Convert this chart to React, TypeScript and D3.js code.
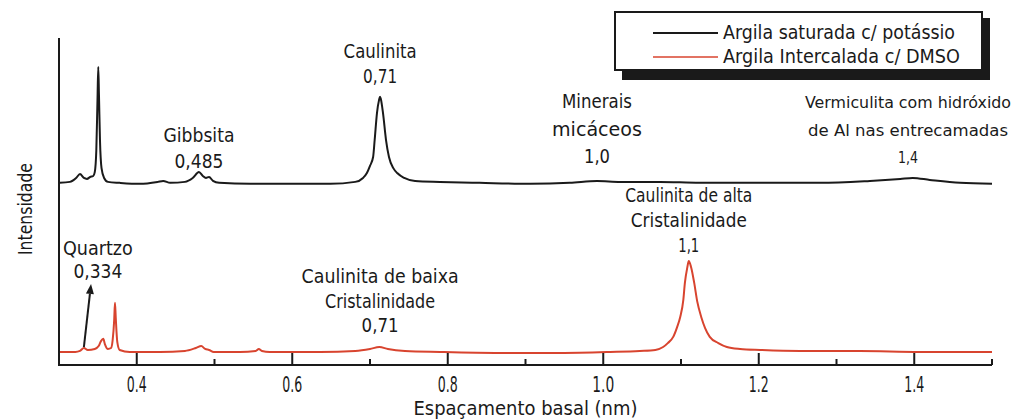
import React from "react";
import * as d3 from "d3";

// Basal spacing (nm) and relative intensity of each diffractogram
const potassioD = [
  0.301, 0.314, 0.322, 0.327, 0.332, 0.336, 0.34, 0.344, 0.346, 0.348, 0.3495, 0.3505, 0.3514, 0.3527,
  0.3547, 0.358, 0.363, 0.378, 0.404, 0.427, 0.434, 0.443, 0.462, 0.472, 0.48, 0.485, 0.489, 0.493,
  0.498, 0.506, 0.546, 0.597, 0.649, 0.681, 0.691, 0.696, 0.7, 0.704, 0.706, 0.709, 0.7116, 0.7129,
  0.714, 0.7167, 0.7206, 0.7244, 0.73, 0.735, 0.744, 0.758, 0.79, 0.841, 0.906, 0.957, 0.992, 1.022,
  1.073, 1.124, 1.202, 1.279, 1.343, 1.382, 1.398, 1.42, 1.459, 1.5,
];
const potassioI = [
  55.7, 56.0, 57.2, 58.4, 57.2, 56.9, 57.5, 57.8, 59.0, 65.7, 81.0, 91.1, 82.6, 68.8,
  60.2, 57.2, 56.0, 55.7, 55.4, 56.0, 56.3, 55.7, 56.0, 57.2, 59.0, 57.8, 57.2, 57.5,
  56.3, 55.7, 55.4, 55.4, 55.4, 56.0, 57.2, 58.7, 60.9, 63.6, 68.8, 77.1, 81.0, 82.0,
  81.3, 77.1, 68.8, 63.6, 60.2, 58.7, 57.2, 56.3, 56.0, 55.7, 55.4, 55.7, 56.3, 56.0,
  56.0, 55.7, 55.7, 55.7, 56.3, 56.9, 57.2, 56.6, 55.7, 55.4,
];

const dmsoD = [
  0.301, 0.321, 0.327, 0.332, 0.337, 0.346, 0.351, 0.354, 0.357, 0.359, 0.363, 0.367, 0.369, 0.371,
  0.372, 0.373, 0.375, 0.378, 0.391, 0.43, 0.462, 0.476, 0.483, 0.488, 0.493, 0.499, 0.533, 0.553,
  0.557, 0.561, 0.571, 0.636, 0.681, 0.7, 0.712, 0.723, 0.745, 0.79, 0.867, 0.944, 1.009, 1.047,
  1.067, 1.077, 1.083, 1.09, 1.095, 1.099, 1.103, 1.105, 1.108, 1.11, 1.113, 1.117, 1.121, 1.126,
  1.131, 1.137, 1.148, 1.159, 1.176, 1.202, 1.253, 1.33, 1.407, 1.5,
];
const dmsoI = [
  4.0, 4.0, 4.3, 5.2, 4.6, 4.9, 5.8, 7.3, 8.0, 6.4, 4.9, 5.2, 7.6, 13.8,
  19.0, 14.4, 7.0, 4.6, 4.0, 4.0, 4.3, 5.2, 5.8, 4.9, 4.6, 4.0, 4.0, 4.3,
  4.9, 4.3, 4.0, 4.0, 4.3, 4.9, 5.5, 4.9, 4.3, 4.0, 3.7, 3.7, 4.0, 4.3,
  4.6, 5.5, 6.7, 8.6, 11.6, 14.7, 19.9, 25.1, 29.7, 31.8, 29.9, 25.1, 19.3, 14.7,
  11.3, 8.6, 6.7, 5.5, 4.9, 4.6, 4.3, 4.3, 4.0, 4.0,
];

const seriesNames = ["Argila saturada c/ potássio", "Argila Intercalada c/ DMSO"];
const majorTicks = [0.4, 0.6, 0.8, 1.0, 1.2, 1.4];
const minorTicks = [0.5, 0.7, 0.9, 1.1, 1.3, 1.5];
const xDomain = [0.3, 1.5];
const yDomain = [0, 100];

// Peak annotations: label lines and the basal spacing they sit over
const peakLabels = [
  { lines: ["Caulinita", "0,71"], d: 0.713 },
  { lines: ["Gibbsita", "0,485"], d: 0.48 },
  { lines: ["Quartzo", "0,334"], d: 0.35 },
  { lines: ["Minerais", "micáceos", "1,0"], d: 0.992 },
  { lines: ["Vermiculita com hidróxido", "de Al nas entrecamadas", "1,4"], d: 1.392 },
  { lines: ["Caulinita de alta", "Cristalinidade", "1,1"], d: 1.11 },
  { lines: ["Caulinita de baixa", "Cristalinidade", "0,71"], d: 0.713 },
];
// Quartz pointer: from the small peak up towards its label
const quartzArrow = { from: [0.332, 5.5], to: [0.3412, 24.8] };

// Layout: first baseline, line gap, font size and rendered widths of each label block
const labelLayout = [
  { y: 58, gap: 25, size: 19, widths: [73, 34] },
  { y: 142, gap: 26, size: 19, widths: [71, 49] },
  { y: 255, gap: 23, size: 19, widths: [70, 49] },
  { y: 108, gap: 27.5, size: 19, widths: [70, 90, 26] },
  { y: 108, gap: 27.5, size: 16, widths: [206, 200, 20] },
  { y: 202, gap: 25, size: 19, widths: [127, 116, 21] },
  { y: 283, gap: 24.5, size: 19, widths: [157, 110, 37] },
];

const FONT = "'DejaVu Sans', sans-serif";
const INK = "#1a1a1a";
const RED = "#d8442f";
const LABEL_SIZE = "19px";
const TICK_SIZE = "21px";

export default function App() {
  const width = 1028;
  const height = 420;
  const x = d3.scaleLinear().domain(xDomain).range([59, 992]);
  const y = d3.scaleLinear().domain(yDomain).range([365, 38]);

  const line = d3
    .line<[number, number]>()
    .x((p) => x(p[0]))
    .y((p) => y(p[1]))
    .curve(d3.curveMonotoneX);

  const potassio = potassioD.map((d, i) => [d, potassioI[i]] as [number, number]);
  const dmso = dmsoD.map((d, i) => [d, dmsoI[i]] as [number, number]);

  const ax0 = x(quartzArrow.from[0]);
  const ay0 = y(quartzArrow.from[1]);
  const ax1 = x(quartzArrow.to[0]);
  const ay1 = y(quartzArrow.to[1]);
  const ang = Math.atan2(ay1 - ay0, ax1 - ax0);
  const headLen = 10;
  const headW = 4;
  const hx = ax1 - headLen * Math.cos(ang);
  const hy = ay1 - headLen * Math.sin(ang);
  const head = [
    [ax1, ay1],
    [hx + headW * Math.sin(ang), hy - headW * Math.cos(ang)],
    [hx - headW * Math.sin(ang), hy + headW * Math.cos(ang)],
  ]
    .map((p) => p.join(","))
    .join(" ");

  const labelStyle = { fontFamily: FONT, fontSize: LABEL_SIZE, fill: INK };

  return (
    <svg
      width={width}
      height={height}
      viewBox={`0 0 ${width} ${height}`}
      style={{ position: "absolute", left: 0, top: 0, background: "#fff" }}
    >
      <rect width={width} height={height} fill="#fff" />

      {/* diffractograms */}
      <path d={line(potassio) ?? ""} fill="none" stroke={INK} strokeWidth={2} strokeLinejoin="round" />
      <path d={line(dmso) ?? ""} fill="none" stroke={RED} strokeWidth={2} strokeLinejoin="round" />

      {/* axes */}
      <line x1={x(xDomain[0])} x2={x(xDomain[0])} y1={y(yDomain[1])} y2={y(0)} stroke={INK} strokeWidth={2} />
      <line x1={x(xDomain[0]) - 1} x2={x(xDomain[1])} y1={y(0)} y2={y(0)} stroke={INK} strokeWidth={2} />
      {majorTicks.map((t) => (
        <g key={`M${t}`}>
          <line x1={x(t)} x2={x(t)} y1={y(0)} y2={y(0) - 12} stroke={INK} strokeWidth={2} />
          <text
            x={x(t)}
            y={392}
            textAnchor="middle"
            style={{ fontFamily: FONT, fontSize: TICK_SIZE, fill: INK }}
            textLength={t === 1.0 ? 22 : 20}
            lengthAdjust="spacingAndGlyphs"
          >
            {t.toFixed(1)}
          </text>
        </g>
      ))}
      {minorTicks.map((t) => (
        <line key={`m${t}`} x1={x(t)} x2={x(t)} y1={y(0)} y2={y(0) - 6} stroke={INK} strokeWidth={2} />
      ))}

      {/* axis titles */}
      <text
        x={(x(xDomain[0]) + x(xDomain[1])) / 2}
        y={415}
        textAnchor="middle"
        style={labelStyle}
        textLength={224}
        lengthAdjust="spacingAndGlyphs"
      >
        Espaçamento basal (nm)
      </text>
      <text
        transform="translate(32,209) rotate(-90)"
        textAnchor="middle"
        style={labelStyle}
        textLength={92}
        lengthAdjust="spacingAndGlyphs"
      >
        Intensidade
      </text>

      {/* peak labels, each line centred over its peak */}
      {peakLabels.map((lab, i) => {
        const lay = labelLayout[i];
        return (
          <g key={i}>
            {lab.lines.map((s, j) => (
              <text
                key={j}
                x={x(lab.d)}
                y={lay.y + j * lay.gap}
                textAnchor="middle"
                style={{ fontFamily: FONT, fontSize: `${lay.size}px`, fill: INK }}
                textLength={lay.widths[j]}
                lengthAdjust="spacingAndGlyphs"
              >
                {s}
              </text>
            ))}
          </g>
        );
      })}

      {/* quartz pointer */}
      <line x1={ax0} y1={ay0} x2={hx} y2={hy} stroke={INK} strokeWidth={2} />
      <polygon points={head} fill={INK} />

      {/* legend */}
      <rect x={622} y={18} width={368} height={62} fill={INK} />
      <rect x={615} y={12} width={367} height={58} fill="#fff" stroke={INK} strokeWidth={2} />
      {seriesNames.map((name, i) => (
        <g key={name}>
          <line
            x1={653}
            x2={718}
            y1={33 + i * 24}
            y2={33 + i * 24}
            stroke={i === 0 ? INK : RED}
            strokeWidth={i === 0 ? 2 : 1.5}
          />
          <text
            x={723}
            y={39 + i * 24}
            style={labelStyle}
            textLength={i === 0 ? 232 : 237}
            lengthAdjust="spacingAndGlyphs"
          >
            {name}
          </text>
        </g>
      ))}
    </svg>
  );
}
